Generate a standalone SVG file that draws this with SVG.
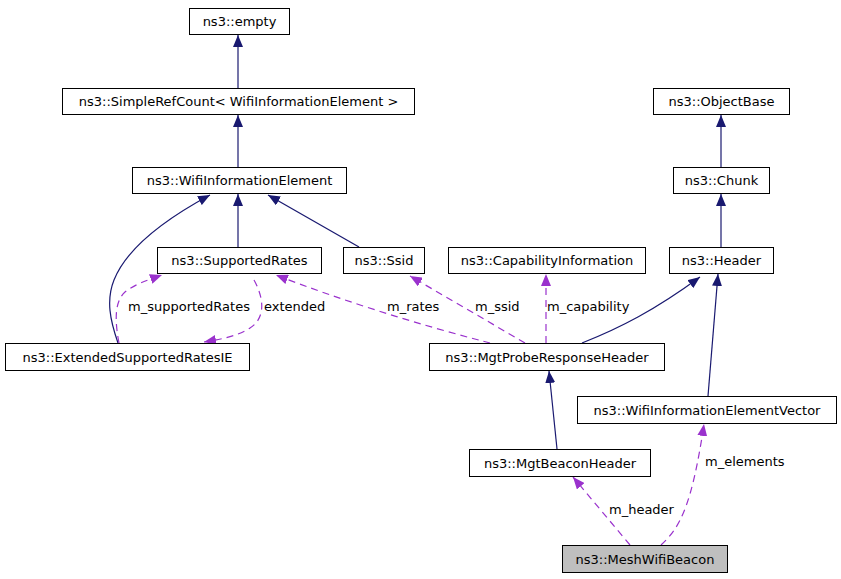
<svg xmlns="http://www.w3.org/2000/svg" width="841" height="579" viewBox="0 0 841 579">
<style>
.n rect{fill:#fff;stroke:#000;stroke-width:1}
text{font-family:"DejaVu Sans",sans-serif;font-size:13px;fill:#000}
.n text{text-anchor:middle}
.i{fill:none;stroke:#191970;stroke-width:1.2}
.u{fill:none;stroke:#9a32cd;stroke-width:1.2;stroke-dasharray:7,5}
</style>
<defs>
<marker id="ai" viewBox="0 0 12 10" refX="12" refY="5" markerWidth="12" markerHeight="10" markerUnits="userSpaceOnUse" orient="auto"><path d="M0,0L12,5L0,10z" fill="#191970"/></marker>
<marker id="au" viewBox="0 0 12 10" refX="12" refY="5" markerWidth="12" markerHeight="10" markerUnits="userSpaceOnUse" orient="auto"><path d="M0,0L12,5L0,10z" fill="#9a32cd"/></marker>
</defs>
<rect width="841" height="579" fill="#fff"/>
<g id="edges">
<path class="i" marker-end="url(#ai)" d="M238,88V35"/>
<path class="i" marker-end="url(#ai)" d="M238,167V115"/>
<path class="i" marker-end="url(#ai)" d="M238,247V194"/>
<path class="i" marker-end="url(#ai)" d="M359,247L268,195"/>
<path class="i" marker-end="url(#ai)" d="M118,343C110,320 106,300 114,280C126,250 160,222 210,195"/>
<path class="i" marker-end="url(#ai)" d="M721,247V194"/>
<path class="i" marker-end="url(#ai)" d="M721,167V115"/>
<path class="i" marker-end="url(#ai)" d="M582,343C620,328 655,310 700,277"/>
<path class="i" marker-end="url(#ai)" d="M708,396L718,274"/>
<path class="i" marker-end="url(#ai)" d="M557,449L549,371"/>
<path class="u" marker-end="url(#au)" d="M119,343C115,322 114,302 125,292C135,284 148,280 162,275"/>
<path class="u" marker-end="url(#au)" d="M254,280C264,298 266,318 250,328C238,336 222,339 204,342"/>
<path class="u" marker-end="url(#au)" d="M490,343C420,325 340,300 276,275"/>
<path class="u" marker-end="url(#au)" d="M525,343L410,276"/>
<path class="u" marker-end="url(#au)" d="M546,343V274"/>
<path class="u" marker-end="url(#au)" d="M630,545L573,477"/>
<path class="u" marker-end="url(#au)" d="M661,545C680,528 692,505 704,424"/>
<text x="128" y="311">m_supportedRates</text>
<text x="264" y="311">extended</text>
<text x="387" y="311">m_rates</text>
<text x="475" y="311">m_ssid</text>
<text x="547" y="311">m_capability</text>
<text x="705" y="466">m_elements</text>
<text x="609" y="514">m_header</text>
</g>
<g id="empty" class="n"><rect x="189.5" y="8.5" width="100" height="26"/><text x="239.5" y="26">ns3::empty</text></g>
<g id="simplerefcount" class="n"><rect x="62.5" y="88.5" width="352" height="26"/><text x="238.5" y="106">ns3::SimpleRefCount&lt; WifiInformationElement &gt;</text></g>
<g id="wie" class="n"><rect x="132.5" y="167.5" width="214" height="26"/><text x="239.5" y="185">ns3::WifiInformationElement</text></g>
<g id="supportedrates" class="n"><rect x="157.5" y="247.5" width="164" height="26"/><text x="239.5" y="265">ns3::SupportedRates</text></g>
<g id="ssid" class="n"><rect x="343.5" y="247.5" width="81" height="26"/><text x="384" y="265">ns3::Ssid</text></g>
<g id="capability" class="n"><rect x="448.5" y="247.5" width="197" height="26"/><text x="547" y="265">ns3::CapabilityInformation</text></g>
<g id="header" class="n"><rect x="669.5" y="247.5" width="104" height="26"/><text x="721.5" y="265">ns3::Header</text></g>
<g id="objectbase" class="n"><rect x="653.5" y="88.5" width="136" height="26"/><text x="721.5" y="106">ns3::ObjectBase</text></g>
<g id="chunk" class="n"><rect x="673.5" y="167.5" width="96" height="26"/><text x="721.5" y="185">ns3::Chunk</text></g>
<g id="extsr" class="n"><rect x="5.5" y="343.5" width="244" height="27"/><text x="127.5" y="362">ns3::ExtendedSupportedRatesIE</text></g>
<g id="probe" class="n"><rect x="429.5" y="343.5" width="235" height="27"/><text x="547" y="362">ns3::MgtProbeResponseHeader</text></g>
<g id="wiev" class="n"><rect x="577.5" y="396.5" width="259" height="27"/><text x="707" y="415">ns3::WifiInformationElementVector</text></g>
<g id="beacon" class="n"><rect x="469.5" y="449.5" width="181" height="27"/><text x="560" y="468">ns3::MgtBeaconHeader</text></g>
<g id="mesh" class="n"><rect x="562.5" y="545.5" width="165" height="27" style="fill:#bfbfbf"/><text x="645" y="564">ns3::MeshWifiBeacon</text></g>
</svg>
